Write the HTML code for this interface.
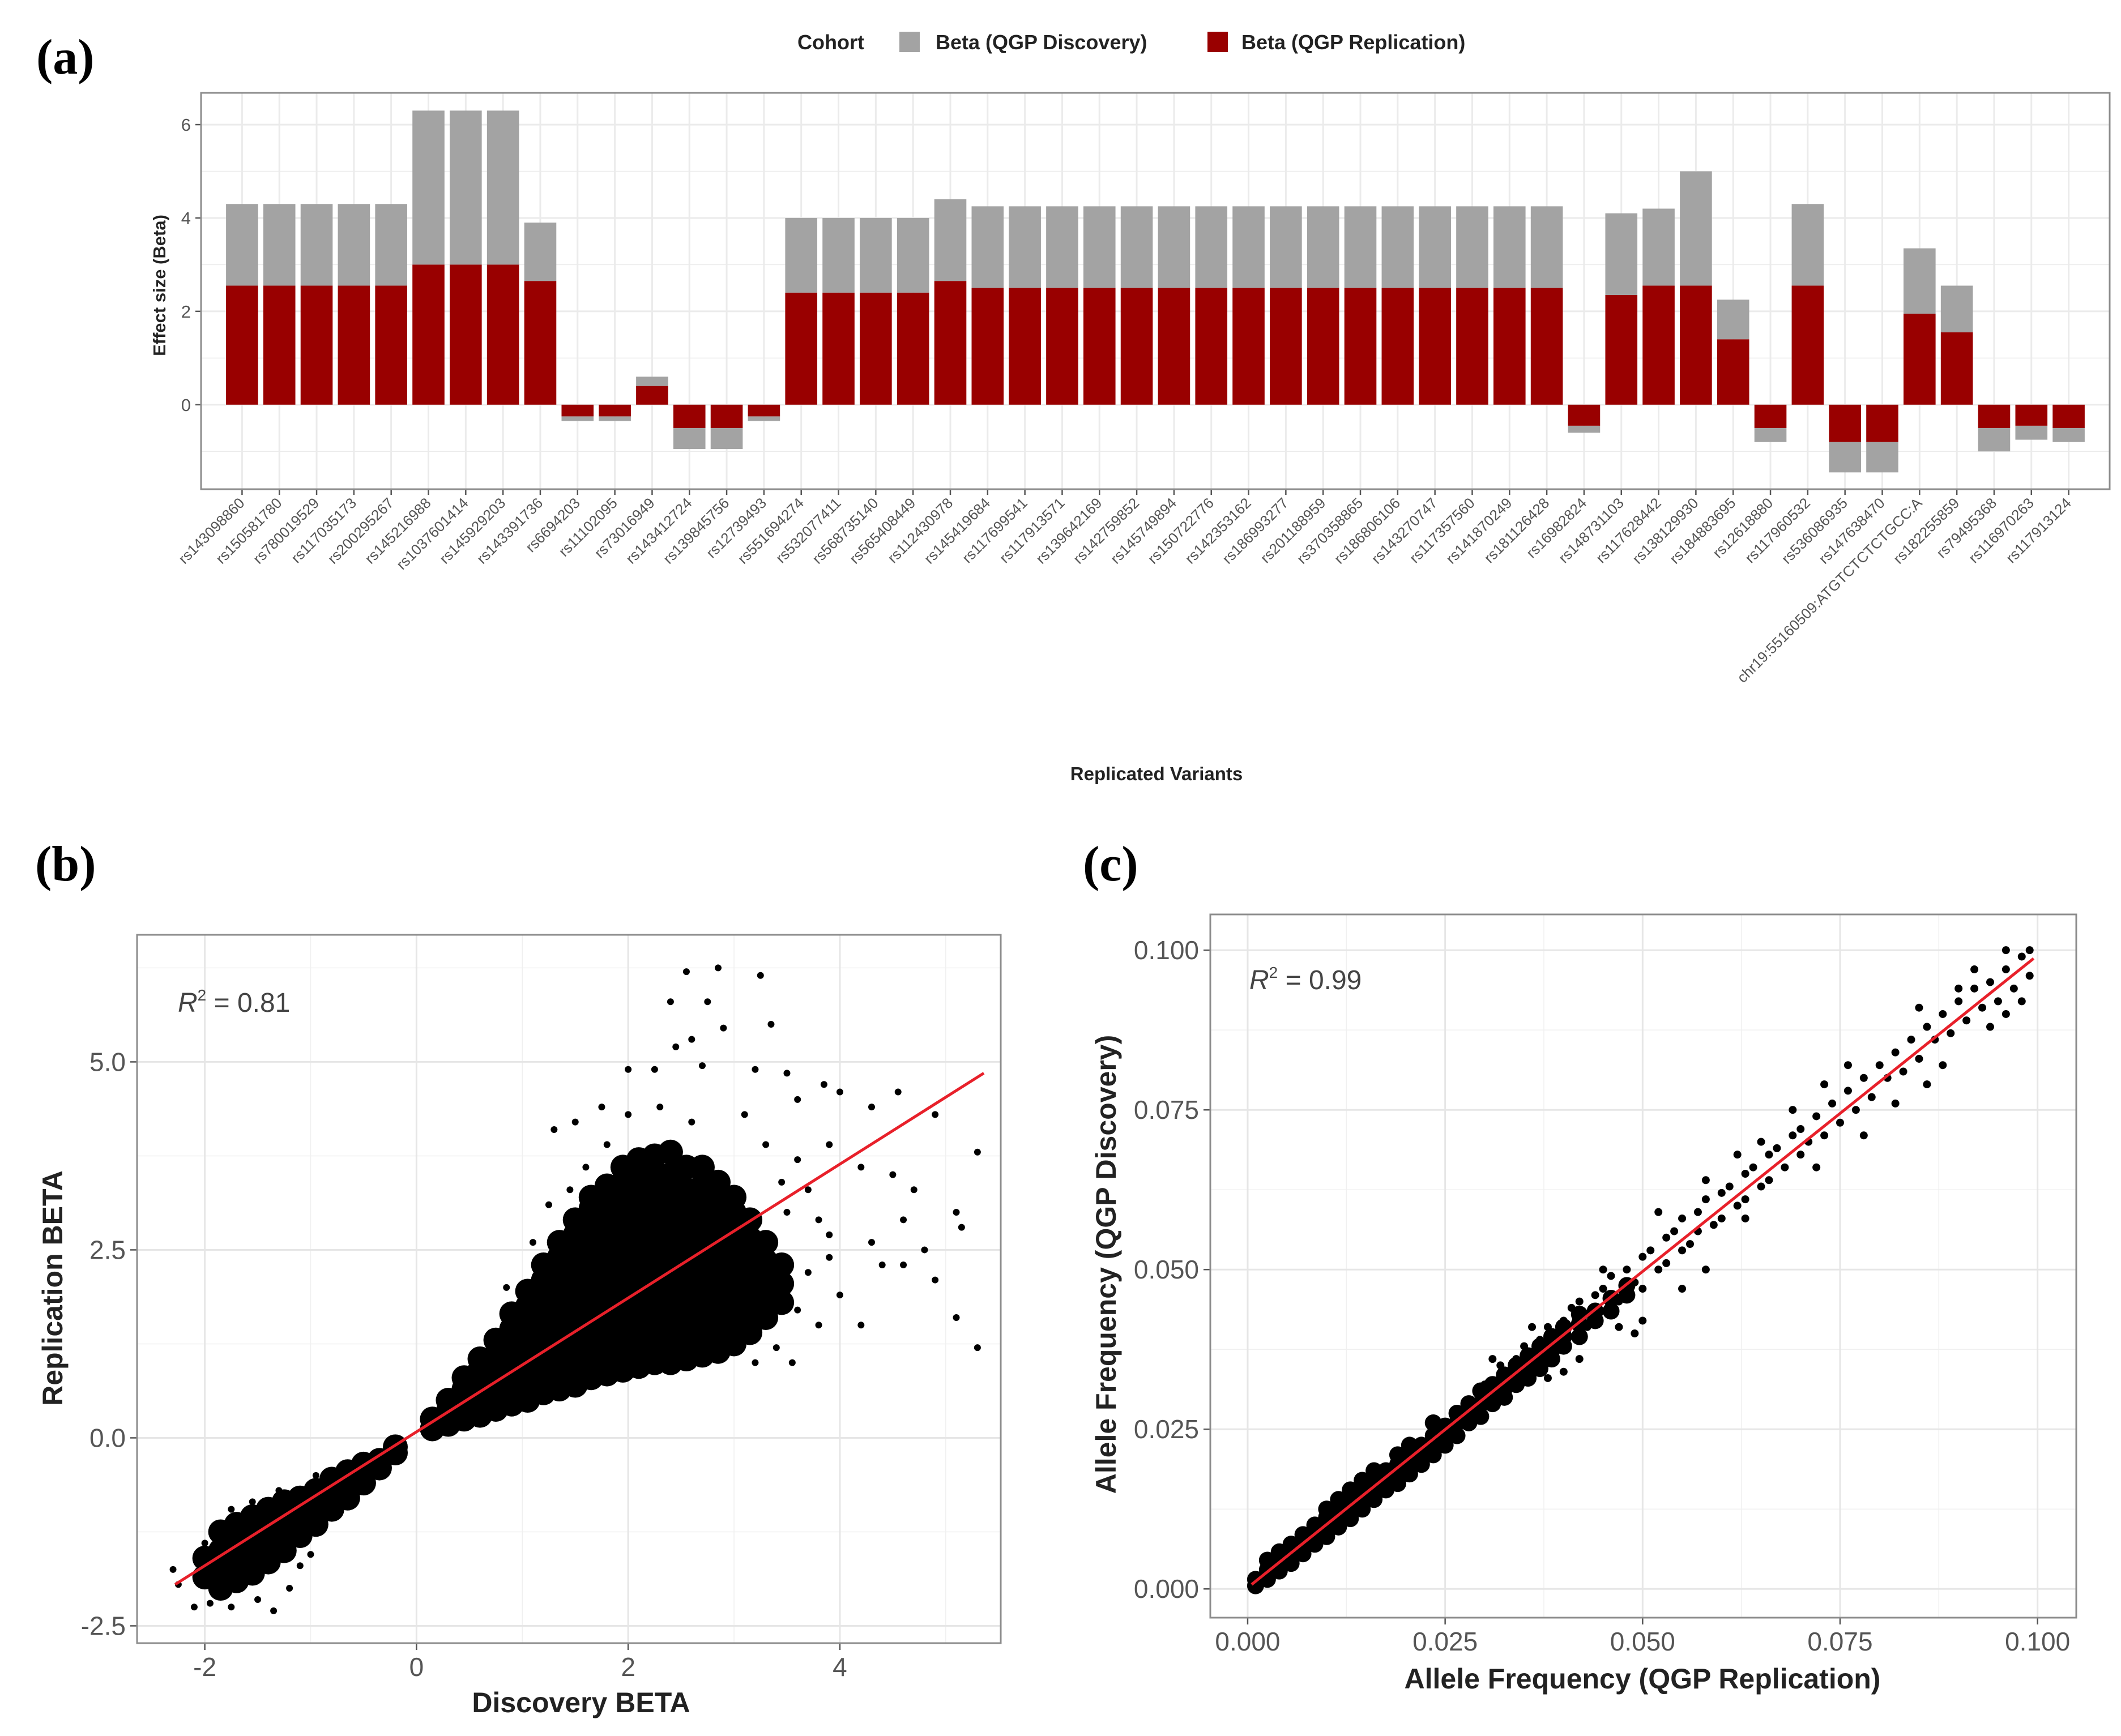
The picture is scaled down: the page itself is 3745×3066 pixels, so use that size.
<!DOCTYPE html>
<html><head><meta charset="utf-8"><style>
html,body{margin:0;padding:0;background:#fff;}
svg{display:block;}
text{font-family:"Liberation Sans",sans-serif;}
.panel-tag{font-family:"Liberation Serif",serif;font-weight:bold;}
</style></head>
<body>
<svg id="fig" xmlns="http://www.w3.org/2000/svg" width="3745" height="3066" viewBox="0 0 3745 3066">
<rect x="0" y="0" width="3745" height="3066" fill="#fff"/>
<text class="panel-tag" x="64" y="130" font-size="88">(a)</text>
<text class="panel-tag" x="62" y="1555" font-size="88">(b)</text>
<text class="panel-tag" x="1912" y="1555" font-size="88">(c)</text>
<g>
<text x="1408" y="87" font-size="36" font-weight="bold" fill="#222">Cohort</text>
<rect x="1588" y="56" width="36" height="36" fill="#a3a3a3"/>
<text x="1652" y="87" font-size="36" font-weight="bold" fill="#222">Beta (QGP Discovery)</text>
<rect x="2132" y="56" width="36" height="36" fill="#990000"/>
<text x="2192" y="87" font-size="36" font-weight="bold" fill="#222">Beta (QGP Replication)</text>
</g>
<g id="pa"></g>
<g id="pb"></g>
<g id="pc"></g>
</svg>
<script>
// ---------- Panel (a) data ----------
const variants = ["rs143098860","rs150581780","rs780019529","rs117035173","rs200295267","rs145216988","rs1037601414","rs145929203","rs143391736","rs6694203","rs11102095","rs73016949","rs143412724","rs139845756","rs12739493","rs551694274","rs532077411","rs568735140","rs565408449","rs112430978","rs145419684","rs117699541","rs117913571","rs139642169","rs142759852","rs145749894","rs150722776","rs142353162","rs186993277","rs201188959","rs370358865","rs186806106","rs143270747","rs117357560","rs141870249","rs181126428","rs16982824","rs148731103","rs117628442","rs138129930","rs184883695","rs12618880","rs117960532","rs536086935","rs147638470","chr19:55160509:ATGTCTCTCTGCC:A","rs182255859","rs79495368","rs116970263","rs117913124"];
const betaReplication = [2.55,2.55,2.55,2.55,2.55,3.0,3.0,3.0,2.65,-0.25,-0.25,0.4,-0.5,-0.5,-0.25,2.4,2.4,2.4,2.4,2.65,2.5,2.5,2.5,2.5,2.5,2.5,2.5,2.5,2.5,2.5,2.5,2.5,2.5,2.5,2.5,2.5,-0.45,2.35,2.55,2.55,1.4,-0.5,2.55,-0.8,-0.8,1.95,1.55,-0.5,-0.45,-0.5];
const betaDiscovery = [1.75,1.75,1.75,1.75,1.75,3.3,3.3,3.3,1.25,-0.1,-0.1,0.2,-0.45,-0.45,-0.1,1.6,1.6,1.6,1.6,1.75,1.75,1.75,1.75,1.75,1.75,1.75,1.75,1.75,1.75,1.75,1.75,1.75,1.75,1.75,1.75,1.75,-0.15,1.75,1.65,2.45,0.85,-0.3,1.75,-0.65,-0.65,1.4,1.0,-0.5,-0.3,-0.3];
const aTicks = [0,2,4,6];

// ---------- Panel (b) data ----------
const bDenseCols = [
 [0.15,[0.12,0.25]],[0.3,[0.18,0.35,0.5]],[0.45,[0.25,0.45,0.65,0.8]],[0.6,[0.3,0.5,0.7,0.9,1.05]],
 [0.75,[0.38,0.6,0.85,1.1,1.3]],[0.9,[0.45,0.7,0.95,1.2,1.45,1.65]],[1.05,[0.5,0.75,1.0,1.25,1.5,1.75,1.95]],
 [1.2,[0.6,0.85,1.1,1.35,1.6,1.85,2.1,2.3]],[1.35,[0.65,0.9,1.15,1.4,1.65,1.9,2.15,2.4,2.6]],
 [1.5,[0.7,0.95,1.2,1.45,1.7,1.95,2.2,2.45,2.7,2.9]],[1.65,[0.8,1.05,1.3,1.55,1.8,2.05,2.3,2.55,2.8,3.05,3.2]],
 [1.8,[0.85,1.1,1.35,1.6,1.85,2.1,2.35,2.6,2.85,3.1,3.35]],[1.95,[0.9,1.15,1.4,1.65,1.9,2.15,2.4,2.65,2.9,3.15,3.4,3.6]],
 [2.1,[0.95,1.2,1.45,1.7,1.95,2.2,2.45,2.7,2.95,3.2,3.45,3.7]],[2.25,[1.0,1.25,1.5,1.75,2.0,2.25,2.5,2.75,3.0,3.25,3.5,3.75]],
 [2.4,[1.0,1.25,1.5,1.75,2.0,2.25,2.5,2.75,3.0,3.25,3.5,3.8]],[2.55,[1.05,1.3,1.55,1.8,2.05,2.3,2.55,2.8,3.05,3.3,3.6]],
 [2.7,[1.1,1.35,1.6,1.85,2.1,2.35,2.6,2.85,3.1,3.35,3.6]],[2.85,[1.15,1.4,1.65,1.9,2.15,2.4,2.65,2.9,3.15,3.4]],
 [3.0,[1.25,1.5,1.75,2.0,2.25,2.5,2.75,3.0,3.2]],[3.15,[1.4,1.65,1.9,2.15,2.4,2.65,2.9]],
 [3.3,[1.6,1.85,2.1,2.35,2.6]],[3.45,[1.8,2.05,2.3]],
 [-2.0,[-1.85,-1.6]],[-1.85,[-2.0,-1.75,-1.5,-1.25]],[-1.7,[-1.9,-1.65,-1.4,-1.15]],[-1.55,[-1.8,-1.55,-1.3,-1.05]],
 [-1.4,[-1.65,-1.4,-1.15,-0.95]],[-1.25,[-1.5,-1.25,-1.0,-0.85]],[-1.1,[-1.3,-1.05,-0.8]],[-0.95,[-1.15,-0.9,-0.7]],
 [-0.8,[-0.95,-0.75,-0.55]],[-0.65,[-0.8,-0.6,-0.45]],[-0.5,[-0.6,-0.45,-0.35]],[-0.35,[-0.4,-0.3]],[-0.2,[-0.2,-0.12]]
];
const bSparseX = [2.55,2.85,3.25,2.4,2.75,2.9,2.6,3.35,2.45,2.0,2.25,2.7,3.2,3.5,3.85,4.55,4.3,4.0,3.6,1.3,1.5,1.75,4.9,5.3,4.2,3.9,4.5,4.7,4.6,4.3,4.4,4.6,4.8,4.9,5.1,5.15,5.1,5.3,4.2,4.0,3.9,3.8,3.7,3.6,3.5,3.6,3.4,3.2,3.55,3.8,3.7,3.9,0.85,1.1,1.25,1.45,1.6,1.8,2.0,2.3,2.6,3.1,3.3,3.45,3.5,0.55,0.7,-2.25,-2.1,-1.95,-1.75,-1.5,-1.35,-1.2,-1.1,-1.0,-2.0,-1.9,-1.75,-1.55,-2.3,-0.95,-1.3];
const bSparseY = [6.2,6.25,6.15,5.8,5.8,5.45,5.3,5.5,5.2,4.9,4.9,4.95,4.9,4.85,4.7,4.6,4.4,4.6,4.5,4.1,4.2,4.4,4.3,3.8,3.6,3.9,3.5,3.3,2.9,2.6,2.3,2.3,2.5,2.1,3.0,2.8,1.6,1.2,1.5,1.9,2.4,2.9,3.3,3.7,2.0,1.7,1.2,1.0,1.0,1.5,2.2,2.7,2.0,2.6,3.1,3.3,3.6,3.9,4.3,4.4,4.2,4.3,3.9,3.4,3.0,1.1,1.4,-1.95,-2.25,-2.2,-2.25,-2.15,-2.3,-2.0,-1.7,-1.55,-1.4,-1.2,-0.95,-0.85,-1.75,-0.5,-0.7];
const bFit = [0.89, 0.08];
const bFitRange = [-2.28, 5.36];
const bXTicks = [-2,0,2,4];
const bYTicks = [-2.5,0,2.5,5];
const bYTickLabels = ["-2.5","0.0","2.5","5.0"];

// ---------- Panel (c) data ----------
const cDenseCols = [
 [0.001,[0.0005,0.0015]],[0.0025,[0.0015,0.003,0.0045]],[0.004,[0.0028,0.0043,0.0058]],[0.0055,[0.004,0.0055,0.007]],
 [0.007,[0.0055,0.007,0.0085]],[0.0085,[0.007,0.0085,0.01]],[0.01,[0.0082,0.0097,0.0112,0.0125]],
 [0.0115,[0.0097,0.0112,0.0127,0.014]],[0.013,[0.011,0.0125,0.014,0.0155]],[0.0145,[0.0125,0.014,0.0155,0.017]],
 [0.016,[0.014,0.0155,0.017,0.0185]],[0.0175,[0.0155,0.017,0.0185]],[0.019,[0.0165,0.018,0.0195,0.021]],
 [0.0205,[0.018,0.0195,0.021,0.0225]],[0.022,[0.0195,0.021,0.0225]],[0.0235,[0.021,0.0225,0.024,0.026]],
 [0.025,[0.0225,0.024,0.0255]],[0.0265,[0.024,0.026,0.0275]],[0.028,[0.026,0.0275,0.029]],[0.0295,[0.027,0.029,0.031]],
 [0.031,[0.029,0.0305,0.032]],[0.0325,[0.030,0.0315,0.0335]],[0.034,[0.032,0.0335,0.035]],[0.0355,[0.033,0.035,0.0365]],
 [0.037,[0.0345,0.0365,0.038]],[0.0385,[0.036,0.038,0.0395]],[0.040,[0.038,0.0395,0.041]],[0.042,[0.0395,0.0415,0.043]],
 [0.044,[0.042,0.0435]],[0.046,[0.0435,0.0455]],[0.048,[0.046,0.0475]]
];
const cSparseX = [0.030,0.031,0.032,0.033,0.034,0.035,0.035,0.036,0.037,0.038,0.038,0.039,0.040,0.040,0.041,0.042,0.042,0.043,0.044,0.044,0.045,0.046,0.046,0.047,0.048,0.048,0.049,0.050,0.050,0.051,0.052,0.053,0.053,0.054,0.055,0.055,0.056,0.057,0.057,0.058,0.059,0.060,0.060,0.061,0.062,0.063,0.063,0.064,0.065,0.066,0.066,0.067,0.068,0.069,0.070,0.070,0.071,0.072,0.073,0.074,0.075,0.076,0.077,0.078,0.079,0.080,0.081,0.082,0.083,0.084,0.085,0.086,0.087,0.088,0.089,0.090,0.091,0.092,0.093,0.094,0.095,0.096,0.097,0.098,0.099,0.099,0.098,0.096,0.094,0.047,0.049,0.050,0.038,0.040,0.042,0.055,0.058,0.063,0.072,0.078,0.082,0.086,0.088,0.062,0.058,0.052,0.045,0.036,0.031,0.069,0.073,0.076,0.065,0.085,0.090,0.092,0.096];
const cSparseY = [0.032,0.029,0.035,0.031,0.036,0.033,0.038,0.034,0.039,0.036,0.041,0.037,0.042,0.038,0.044,0.040,0.045,0.041,0.046,0.043,0.047,0.044,0.049,0.045,0.050,0.046,0.048,0.052,0.047,0.053,0.050,0.055,0.051,0.056,0.053,0.058,0.054,0.059,0.056,0.061,0.057,0.062,0.058,0.063,0.060,0.065,0.061,0.066,0.063,0.068,0.064,0.069,0.066,0.071,0.068,0.072,0.070,0.074,0.071,0.076,0.073,0.078,0.075,0.080,0.077,0.082,0.080,0.084,0.081,0.086,0.083,0.088,0.086,0.090,0.087,0.092,0.089,0.094,0.091,0.095,0.092,0.097,0.094,0.099,0.096,0.100,0.092,0.090,0.088,0.041,0.040,0.042,0.033,0.034,0.036,0.047,0.050,0.058,0.066,0.071,0.076,0.079,0.082,0.068,0.064,0.059,0.050,0.041,0.036,0.075,0.079,0.082,0.070,0.091,0.094,0.097,0.100];
const cFit = [0.99, 0.0002];
const cFitRange = [0.0005, 0.0995];
const cTicks = [0,0.025,0.05,0.075,0.1];
const cTickLabels = ["0.000","0.025","0.050","0.075","0.100"];

const NS = "http://www.w3.org/2000/svg";
function mk(tag, attrs, parent){ const e=document.createElementNS(NS,tag); for(const k in attrs) e.setAttribute(k,attrs[k]); parent.appendChild(e); return e; }

// ================= Panel A =================
(function(){
 const g=document.getElementById('pa');
 const L=355,R=3725,T=164,B=864;
 const yMin=-1.81,yMax=6.68;
 const n=variants.length, band=(R-L)/(n+1.2);
 const X=i=>L+band*(0.6+i+0.5);
 const Y=v=>B-(v-yMin)/(yMax-yMin)*(B-T);
 for(let v=-1;v<=6;v+=1){
  const ln=mk('line',{x1:L,x2:R,y1:Y(v),y2:Y(v),stroke:'#ebebeb','stroke-width':v%2===0?3:1.5},g);
  
  
 }
 variants.forEach((name,i)=>{
  const ln=mk('line',{x1:X(i),x2:X(i),y1:T,y2:B,stroke:'#ebebeb','stroke-width':3},g);
  
  
 });
 const w=band*0.86;
 variants.forEach((name,i)=>{
  const r=betaReplication[i], d=betaDiscovery[i];
  const top=r+d;
  const gb=mk('rect',{x:X(i)-w/2,width:w,y:Math.min(Y(r),Y(top)),height:Math.abs(Y(top)-Y(r)),fill:'#a3a3a3'},g);
  
  
  const rb=mk('rect',{x:X(i)-w/2,width:w,y:Math.min(Y(0),Y(r)),height:Math.abs(Y(r)-Y(0)),fill:'#990000'},g);
  
  
  const tk=mk('line',{x1:X(i),x2:X(i),y1:B,y2:B+10,stroke:'#555','stroke-width':2.5},g);
  
  
  const tx=mk('text',{x:X(i)+6,y:B+26,'font-size':26,fill:'#555','text-anchor':'end',transform:`rotate(-45 ${X(i)+6} ${B+26})`},g);
  tx.textContent=name;
  
  
 });
 aTicks.forEach(v=>{
  const tk=mk('line',{x1:L-10,x2:L,y1:Y(v),y2:Y(v),stroke:'#555','stroke-width':2.5},g);
  
  
  const tx=mk('text',{x:L-18,y:Y(v)+11,'font-size':31,fill:'#555','text-anchor':'end'},g);
  tx.textContent=String(v);
  
  
 });
 const bd=mk('rect',{x:L,y:T,width:R-L,height:B-T,fill:'none',stroke:'#8c8c8c','stroke-width':3},g);
 
 
 const yt=mk('text',{x:0,y:0,'font-size':31,'font-weight':'bold',fill:'#222','text-anchor':'middle',transform:`translate(292 ${(T+B)/2-10}) rotate(-90)`},g);
 yt.textContent='Effect size (Beta)';
 
 
 const xt=mk('text',{x:2042,y:1378,'font-size':33,'font-weight':'bold',fill:'#222','text-anchor':'middle'},g);
 xt.textContent='Replicated Variants';
 
 
})();

// ================= Scatter helper =================
function scatter(gid, box, xr, yr, xMajor, xMinor, yMajor, yMinor, xLabels, yLabels, denseCols, denseR, sx, sy, sparseR, fit, fitRange, r2, r2pos, xTitle, yTitle, xTitlePos, yTitlePos){
 const g=document.getElementById(gid);
 const [L,T,R,B]=box;
 const X=v=>L+(v-xr[0])/(xr[1]-xr[0])*(R-L);
 const Y=v=>B-(v-yr[0])/(yr[1]-yr[0])*(B-T);
 xMinor.forEach(v=>{const l=mk('line',{x1:X(v),x2:X(v),y1:T,y2:B,stroke:'#f0f0f0','stroke-width':1.5},g);
  
  });
 yMinor.forEach(v=>{const l=mk('line',{x1:L,x2:R,y1:Y(v),y2:Y(v),stroke:'#f0f0f0','stroke-width':1.5},g);
  
  });
 xMajor.forEach((v,i)=>{const l=mk('line',{x1:X(v),x2:X(v),y1:T,y2:B,stroke:'#e6e6e6','stroke-width':3},g);
  
  
  const tk=mk('line',{x1:X(v),x2:X(v),y1:B,y2:B+12,stroke:'#555','stroke-width':2.5},g);
  
  
  const t=mk('text',{x:X(v),y:B+58,'font-size':46,fill:'#555','text-anchor':'middle'},g);
  t.textContent=xLabels[i];
  
  });
 yMajor.forEach((v,i)=>{const l=mk('line',{x1:L,x2:R,y1:Y(v),y2:Y(v),stroke:'#e6e6e6','stroke-width':3},g);
  
  
  const tk=mk('line',{x1:L-12,x2:L,y1:Y(v),y2:Y(v),stroke:'#555','stroke-width':2.5},g);
  
  
  const t=mk('text',{x:L-20,y:Y(v)+16,'font-size':46,fill:'#555','text-anchor':'end'},g);
  t.textContent=yLabels[i];
  
  });
 denseCols.forEach(c=>{c[1].forEach(yv=>{
  const p=mk('circle',{cx:X(c[0]),cy:Y(yv),r:denseR,fill:'#000'},g);
  
  });});
 sx.forEach((xv,i)=>{
  const p=mk('circle',{cx:X(xv),cy:Y(sy[i]),r:sparseR,fill:'#000'},g);
  
  });
 const fl=mk('line',{x1:X(fitRange[0]),y1:Y(fit[0]*fitRange[0]+fit[1]),x2:X(fitRange[1]),y2:Y(fit[0]*fitRange[1]+fit[1]),stroke:'#e8202a','stroke-width':5},g);
 
 
 const bd=mk('rect',{x:L,y:T,width:R-L,height:B-T,fill:'none',stroke:'#8c8c8c','stroke-width':3},g);
 
 
 const rt=mk('text',{x:r2pos[0],y:r2pos[1],'font-size':48,fill:'#444'},g);
 rt.innerHTML='<tspan font-style="italic">R</tspan><tspan dy="-20" font-size="28">2</tspan><tspan dy="20"> = '+r2+'</tspan>';
 
 
 const xt=mk('text',{x:xTitlePos[0],y:xTitlePos[1],'font-size':50,'font-weight':'bold',fill:'#222','text-anchor':'middle'},g);
 xt.textContent=xTitle;
 
 
 const yt=mk('text',{x:0,y:0,'font-size':50,'font-weight':'bold',fill:'#222','text-anchor':'middle',transform:`translate(${yTitlePos[0]} ${yTitlePos[1]}) rotate(-90)`},g);
 yt.textContent=yTitle;
 
 
}

scatter('pb',[242,1651,1767,2902],[-2.64,5.52],[-2.73,6.69],
 bXTicks,[-1,1,3,5],bYTicks,[-1.25,1.25,3.75,6.25],
 bXTicks.map(String),bYTickLabels,
 bDenseCols,22,bSparseX,bSparseY,6,bFit,bFitRange,'0.81',[314,1787],
 'Discovery BETA','Replication BETA',[1026,3024],[110,2275]);

scatter('pc',[2137,1615,3666,2857],[-0.00473,0.1049],[-0.0045,0.1056],
 cTicks,[0.0125,0.0375,0.0625,0.0875],cTicks,[0.0125,0.0375,0.0625,0.0875],
 cTickLabels,cTickLabels,
 cDenseCols,15,cSparseX,cSparseY,7,cFit,cFitRange,'0.99',[2206,1747],
 'Allele Frequency (QGP Replication)','Allele Frequency (QGP Discovery)',[2900,2982],[1970,2233]);
</script>
</body></html>
